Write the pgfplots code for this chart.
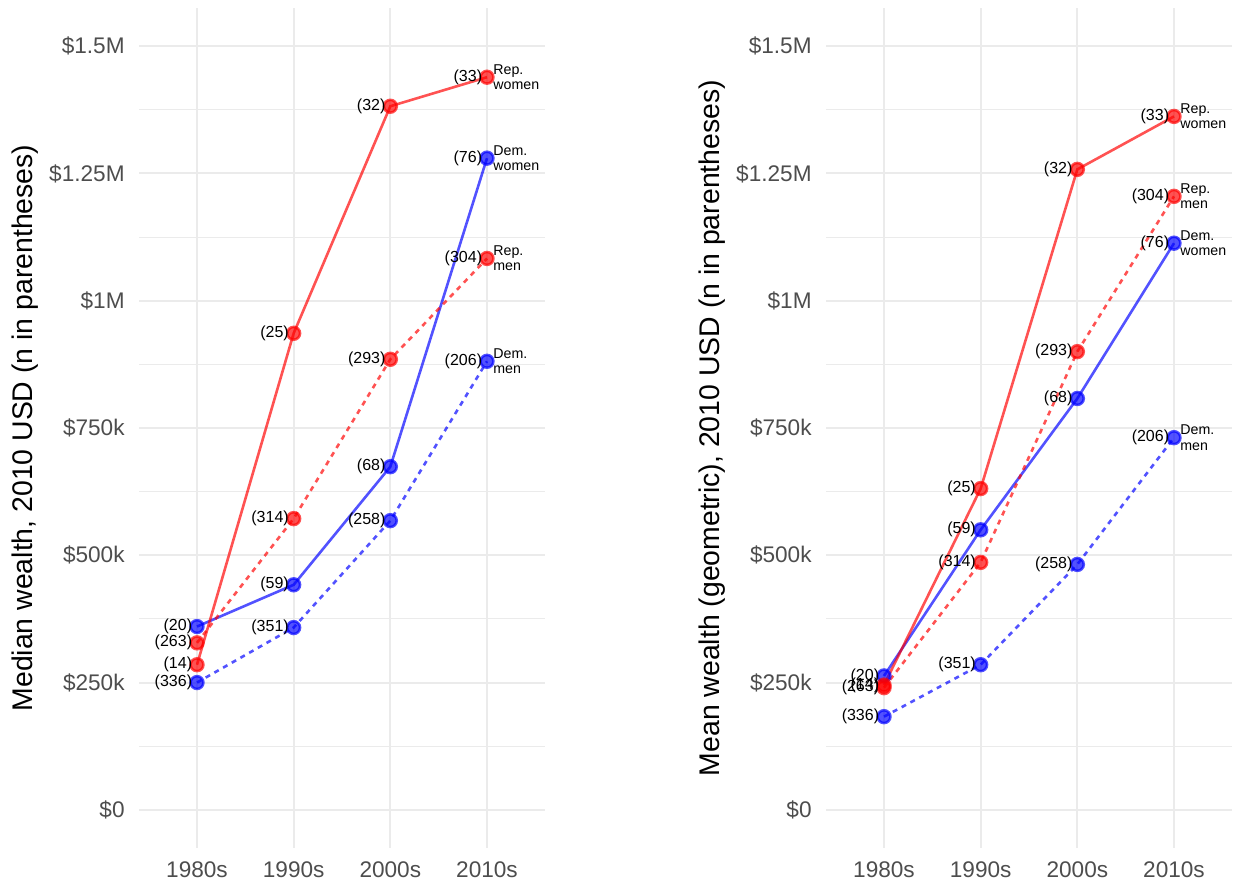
\documentclass[border=0pt]{standalone}
\usepackage{pgfplots}
\pgfplotsset{compat=1.18}
\usepackage{fontspec}
\setmainfont{Liberation Sans}
\definecolor{gridc}{RGB}{235,235,235}
\definecolor{tickc}{RGB}{77,77,77}
\definecolor{rd}{RGB}{255,0,0}
\definecolor{bl}{RGB}{0,0,255}
\pgfplotsset{
  panel/.style={
    scale only axis, width=203pt, height=420pt,
    xmin=0.4, xmax=4.6, ymin=-0.075, ymax=1.575,
    clip=false,
    axis line style={draw=none},
    tick style={draw=none},
    xtick={1,2,3,4}, xticklabels={1980s,1990s,2000s,2010s},
    ytick={0,0.25,0.5,0.75,1,1.25,1.5},
    yticklabels={\$0,\$250k,\$500k,\$750k,\$1M,\$1.25M,\$1.5M},
    minor ytick={0.125,0.375,0.625,0.875,1.125,1.375},
    xmajorgrids, ymajorgrids, yminorgrids,
    major grid style={gridc, line width=1pt},
    minor grid style={gridc, line width=0.5pt},
    /pgf/number format/assume math mode=true,
    tick label style={font=\fontsize{11.3}{13}\selectfont, text=tickc, inner sep=0pt},
    yticklabel style={xshift=-7pt},
    xticklabel style={yshift=-6.5pt},
    ylabel style={at={(axis description cs:0,0.5)}, anchor=center, yshift=57pt, font=\fontsize{14.2}{16}\selectfont},
  },
  ser/.style={#1, opacity=0.68, line width=1.3pt, mark=*, mark size=3.2pt, mark options={solid, draw=none, fill=#1},
    point meta=explicit symbolic,
    nodes near coords={(\pgfplotspointmeta)},
    nodes near coords style={anchor=east, inner sep=0pt, xshift=-1.8pt, yshift=0pt, text=black, text opacity=1, opacity=1, font=\fontsize{8}{9}\selectfont},
  },
  dsh/.style={dash pattern=on 2.5pt off 2.5pt},
  endlab/.style={draw=none, mark=none, nodes near coords={#1},
    nodes near coords style={anchor=west, inner sep=0pt, xshift=3pt, yshift=0pt, align=left, font=\fontsize{7.1}{7.6}\selectfont, text=black}},
}
\begin{document}
\begin{tikzpicture}[x=1pt,y=1pt]
\path[use as bounding box] (0,0) rectangle (618,441.5);
% Left panel: median
\begin{axis}[panel, at={(69.5pt,17.5pt)}, anchor=south west,
  ylabel={Median wealth, 2010 USD (n in parentheses)}]
\addplot[ser=bl] coordinates {(1,0.360) [20] (2,0.442) [59] (3,0.674) [68] (4,1.280) [76]};
\addplot[ser=bl, dsh] coordinates {(1,0.250) [336] (2,0.358) [351] (3,0.568) [258] (4,0.881) [206]};
\addplot[ser=rd, dsh] coordinates {(1,0.328) [263] (2,0.572) [314] (3,0.885) [293] (4,1.083) [304]};
\addplot[ser=rd] coordinates {(1,0.285) [14] (2,0.936) [25] (3,1.382) [32] (4,1.439) [33]};
\addplot[endlab={Rep.\\women}] coordinates {(4,1.439)};
\addplot[endlab={Rep.\\men}] coordinates {(4,1.083)};
\addplot[endlab={Dem.\\women}] coordinates {(4,1.280)};
\addplot[endlab={Dem.\\men}] coordinates {(4,0.881)};
\end{axis}
% Right panel: geometric mean
\begin{axis}[panel, at={(413pt,17.5pt)}, anchor=south west,
  ylabel={Mean wealth (geometric), 2010 USD (n in parentheses)}]
\addplot[ser=bl] coordinates {(1,0.263) [20] (2,0.550) [59] (3,0.808) [68] (4,1.113) [76]};
\addplot[ser=bl, dsh] coordinates {(1,0.183) [336] (2,0.285) [351] (3,0.482) [258] (4,0.731) [206]};
\addplot[ser=rd, dsh] coordinates {(1,0.240) [263] (2,0.486) [314] (3,0.900) [293] (4,1.205) [304]};
\addplot[ser=rd] coordinates {(1,0.245) [14] (2,0.631) [25] (3,1.258) [32] (4,1.362) [33]};
\addplot[endlab={Rep.\\women}] coordinates {(4,1.362)};
\addplot[endlab={Rep.\\men}] coordinates {(4,1.205)};
\addplot[endlab={Dem.\\women}] coordinates {(4,1.113)};
\addplot[endlab={Dem.\\men}] coordinates {(4,0.731)};
\end{axis}
\end{tikzpicture}
\end{document}
